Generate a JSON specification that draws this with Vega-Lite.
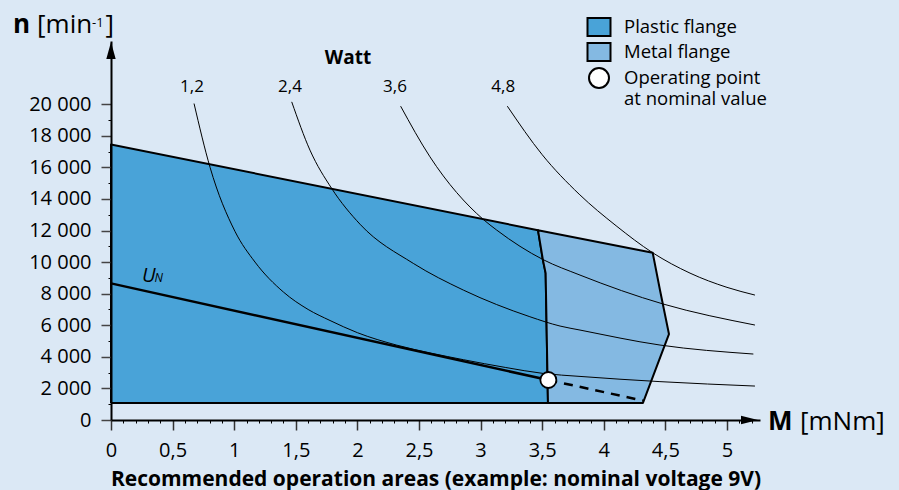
{
  "$schema": "https://vega.github.io/schema/vega-lite/v6.json",
  "width": 649,
  "height": 379,
  "autosize": "none",
  "padding": {"left": 111, "top": 41, "right": 139, "bottom": 70},
  "background": "#dbe8f5",
  "config": {"view": {"stroke": null}, "font": "Open Sans"},
  "datasets": {
    "plastic": [
      {"i": 0, "M": 0, "n": 1080},
      {"i": 1, "M": 0, "n": 17450},
      {"i": 2, "M": 3.466, "n": 12020},
      {"i": 3, "M": 3.506, "n": 10127},
      {"i": 4, "M": 3.528, "n": 9300},
      {"i": 5, "M": 3.547, "n": 1080},
      {"i": 6, "M": 0, "n": 1080}
    ],
    "metal": [
      {"i": 0, "M": 3.547, "n": 1080},
      {"i": 1, "M": 3.528, "n": 9300},
      {"i": 2, "M": 3.506, "n": 10127},
      {"i": 3, "M": 3.466, "n": 12020},
      {"i": 4, "M": 4.397, "n": 10590},
      {"i": 5, "M": 4.456, "n": 8228},
      {"i": 6, "M": 4.529, "n": 5443},
      {"i": 7, "M": 4.318, "n": 1080},
      {"i": 8, "M": 3.547, "n": 1080}
    ],
    "curves": [
      {"P": "1,2", "M": 0.674, "n": 20040},
      {"P": "1,2", "M": 0.804, "n": 16000},
      {"P": "1,2", "M": 1.006, "n": 11950},
      {"P": "1,2", "M": 1.169, "n": 10000},
      {"P": "1,2", "M": 1.4, "n": 8100},
      {"P": "1,2", "M": 1.6, "n": 7000},
      {"P": "1,2", "M": 1.778, "n": 6300},
      {"P": "1,2", "M": 2.0, "n": 5530},
      {"P": "1,2", "M": 2.32, "n": 4740},
      {"P": "1,2", "M": 2.6, "n": 4230},
      {"P": "1,2", "M": 2.86, "n": 3820},
      {"P": "1,2", "M": 3.2, "n": 3330},
      {"P": "1,2", "M": 3.507, "n": 2950},
      {"P": "1,2", "M": 3.807, "n": 2760},
      {"P": "1,2", "M": 4.456, "n": 2430},
      {"P": "1,2", "M": 5.227, "n": 2150},
      {"P": "2,4", "M": 1.467, "n": 20146},
      {"P": "2,4", "M": 1.615, "n": 17090},
      {"P": "2,4", "M": 1.791, "n": 14665},
      {"P": "2,4", "M": 2.021, "n": 12400},
      {"P": "2,4", "M": 2.454, "n": 9916},
      {"P": "2,4", "M": 2.86, "n": 8228},
      {"P": "2,4", "M": 3.4, "n": 6540},
      {"P": "2,4", "M": 3.645, "n": 5949},
      {"P": "2,4", "M": 3.807, "n": 5696},
      {"P": "2,4", "M": 4.456, "n": 4747},
      {"P": "2,4", "M": 5.214, "n": 4177},
      {"P": "3,6", "M": 2.351, "n": 19873},
      {"P": "3,6", "M": 2.589, "n": 16667},
      {"P": "3,6", "M": 3.022, "n": 12700},
      {"P": "3,6", "M": 3.131, "n": 12025},
      {"P": "3,6", "M": 3.509, "n": 10150},
      {"P": "3,6", "M": 3.807, "n": 9177},
      {"P": "3,6", "M": 4.483, "n": 7342},
      {"P": "3,6", "M": 5.227, "n": 6013},
      {"P": "4,8", "M": 3.217, "n": 19873},
      {"P": "4,8", "M": 3.5, "n": 16800},
      {"P": "4,8", "M": 3.8, "n": 14300},
      {"P": "4,8", "M": 4.1, "n": 12300},
      {"P": "4,8", "M": 4.397, "n": 10590},
      {"P": "4,8", "M": 4.7, "n": 9300},
      {"P": "4,8", "M": 5.0, "n": 8400},
      {"P": "4,8", "M": 5.227, "n": 7911}
    ],
    "un": [
      {"M": 0, "n": 8650},
      {"M": 3.55, "n": 2532}
    ],
    "undash": [
      {"M": 3.55, "n": 2532},
      {"M": 4.318, "n": 1230}
    ],
    "op": [
      {"M": 3.55, "n": 2532, "item": "Operating point|at nominal value"}
    ],
    "labels": [
      {"t": "1,2", "M": 0.657, "n": 20770},
      {"t": "2,4", "M": 1.453, "n": 20770},
      {"t": "3,6", "M": 2.305, "n": 20770},
      {"t": "4,8", "M": 3.184, "n": 20770}
    ],
    "watt": [{"t": "Watt", "M": 1.924, "n": 22545}],
    "boldTitles": [
      {"t": "n", "M": -0.795, "n": 24490},
      {"t": "M", "M": 5.333, "n": -633}
    ],
    "regTitles": [
      {"t": "[min", "M": -0.6, "n": 24490},
      {"t": "]", "M": -0.045, "n": 24490},
      {"t": "[mNm]", "M": 5.593, "n": -633}
    ],
    "supTitles": [{"t": "-1", "M": -0.154, "n": 24889}],
    "uLabel": [{"t": "U", "M": 0.252, "n": 8740}],
    "nLabel": [{"t": "N", "M": 0.353, "n": 8740}],
    "arrowY": [{"M": 0, "n": 23400}],
    "arrowX": [{"M": 5.183, "n": 0}]
  },
  "layer": [
    {
      "data": {"name": "plastic"},
      "mark": {"type": "line", "fill": "#49a3d8", "stroke": "black", "strokeWidth": 2, "strokeJoin": "round"},
      "encoding": {
        "x": {
          "field": "M", "type": "quantitative",
          "scale": {"domain": [0, 5.268], "nice": false, "zero": false},
          "axis": {
            "orient": "bottom",
            "values": [0, 0.5, 1, 1.5, 2, 2.5, 3, 3.5, 4, 4.5, 5],
            "format": "~g",
            "labelExpr": "replace(datum.label, '.', ',')",
            "labelFlush": false,
            "tickSize": 10, "tickColor": "#333", "tickWidth": 1.5,
            "domainColor": "black", "domainWidth": 2,
            "labelFontSize": 20, "labelColor": "black", "labelPadding": 10,
            "grid": false, "zindex": 1,
            "title": "Recommended operation areas (example: nominal voltage 9V)",
            "titleFontSize": 21, "titleFontWeight": "bold", "titleColor": "black", "titlePadding": 8
          }
        },
        "y": {
          "field": "n", "type": "quantitative",
          "scale": {"domain": [0, 24000], "nice": false, "zero": false},
          "axis": {
            "orient": "left",
            "values": [0, 2000, 4000, 6000, 8000, 10000, 12000, 14000, 16000, 18000, 20000],
            "labelExpr": "replace(format(datum.value, ','), ',', ' ')",
            "labelFlush": false,
            "tickSize": 10, "tickColor": "#444", "tickWidth": 1.5,
            "domainColor": "black", "domainWidth": 2,
            "labelFontSize": 20, "labelColor": "black", "labelPadding": 10,
            "grid": false, "zindex": 1, "title": null
          }
        },
        "order": {"field": "i", "type": "quantitative"}
      }
    },
    {
      "data": {"name": "metal"},
      "mark": {"type": "line", "fill": "#84b9e2", "stroke": "black", "strokeWidth": 2, "strokeJoin": "round"},
      "encoding": {
        "x": {"field": "M", "type": "quantitative", "scale": {"domain": [0, 5.268], "nice": false, "zero": false}, "axis": null},
        "y": {"field": "n", "type": "quantitative", "scale": {"domain": [0, 24000], "nice": false, "zero": false}, "axis": null},
        "order": {"field": "i", "type": "quantitative"}
      }
    },
    {
      "data": {"name": "curves"},
      "mark": {"type": "line", "stroke": "black", "strokeWidth": 1, "interpolate": "monotone"},
      "encoding": {
        "x": {
          "field": "M", "type": "quantitative",
          "scale": {"domain": [0, 5.268], "nice": false, "zero": false},
          "axis": {
            "orient": "bottom",
            "values": [0.1, 0.2, 0.3, 0.4, 0.6, 0.7, 0.8, 0.9, 1.1, 1.2, 1.3, 1.4, 1.6, 1.7, 1.8, 1.9, 2.1, 2.2, 2.3, 2.4, 2.6, 2.7, 2.8, 2.9, 3.1, 3.2, 3.3, 3.4, 3.6, 3.7, 3.8, 3.9, 4.1, 4.2, 4.3, 4.4, 4.6, 4.7, 4.8, 4.9, 5.1, 5.2],
            "tickSize": 3, "tickColor": "black", "tickWidth": 1,
            "labels": false, "domain": false, "grid": false, "title": null
          }
        },
        "y": {
          "field": "n", "type": "quantitative",
          "scale": {"domain": [0, 24000], "nice": false, "zero": false},
          "axis": {
            "orient": "left",
            "values": [1000, 3000, 5000, 7000, 9000, 11000, 13000, 15000, 17000, 19000],
            "tickSize": 3, "tickColor": "black", "tickWidth": 1,
            "labels": false, "domain": false, "grid": false, "title": null
          }
        },
        "detail": {"field": "P", "type": "nominal"}
      }
    },
    {
      "data": {"name": "un"},
      "mark": {"type": "line", "stroke": "black", "strokeWidth": 2.5},
      "encoding": {
        "x": {"field": "M", "type": "quantitative", "scale": {"domain": [0, 5.268], "nice": false, "zero": false}, "axis": null},
        "y": {"field": "n", "type": "quantitative", "scale": {"domain": [0, 24000], "nice": false, "zero": false}, "axis": null}
      }
    },
    {
      "data": {"name": "undash"},
      "mark": {"type": "line", "stroke": "black", "strokeWidth": 2.5, "strokeDash": [9, 7]},
      "encoding": {
        "x": {"field": "M", "type": "quantitative", "scale": {"domain": [0, 5.268], "nice": false, "zero": false}, "axis": null},
        "y": {"field": "n", "type": "quantitative", "scale": {"domain": [0, 24000], "nice": false, "zero": false}, "axis": null}
      }
    },
    {
      "data": {"name": "op"},
      "mark": {"type": "point", "filled": true, "size": 256, "stroke": "black", "strokeWidth": 1.8, "opacity": 1},
      "encoding": {
        "x": {"field": "M", "type": "quantitative", "scale": {"domain": [0, 5.268], "nice": false, "zero": false}, "axis": null},
        "y": {"field": "n", "type": "quantitative", "scale": {"domain": [0, 24000], "nice": false, "zero": false}, "axis": null},
        "fill": {
          "field": "item", "type": "nominal",
          "scale": {
            "domain": ["Plastic flange", "Metal flange", "Operating point|at nominal value"],
            "range": ["#49a3d8", "#84b9e2", "white"]
          },
          "legend": {
            "title": null,
            "orient": "none",
            "legendX": 477,
            "legendY": -25,
            "padding": 0,
            "symbolSize": 400,
            "symbolStrokeColor": "black",
            "symbolStrokeWidth": 2,
            "symbolOpacity": 1,
            "labelFontSize": 18.5,
            "labelColor": "black",
            "labelFont": "Open Sans",
            "labelOffset": 14,
            "labelLimit": 300,
            "rowPadding": -1,
            "labelExpr": "split(datum.label, '|')"
          }
        },
        "shape": {
          "field": "item", "type": "nominal",
          "scale": {
            "domain": ["Plastic flange", "Metal flange", "Operating point|at nominal value"],
            "range": ["M-1.15,-0.9H1.15V0.9H-1.15Z", "M-1.15,-0.9H1.15V0.9H-1.15Z", "circle"]
          }
        }
      }
    },
    {
      "data": {"name": "labels"},
      "mark": {"type": "text", "fontSize": 17, "align": "center", "baseline": "alphabetic", "color": "black"},
      "encoding": {
        "x": {"field": "M", "type": "quantitative", "scale": {"domain": [0, 5.268], "nice": false, "zero": false}, "axis": null},
        "y": {"field": "n", "type": "quantitative", "scale": {"domain": [0, 24000], "nice": false, "zero": false}, "axis": null},
        "text": {"field": "t"}
      }
    },
    {
      "data": {"name": "watt"},
      "mark": {"type": "text", "fontSize": 19, "fontWeight": "bold", "align": "center", "baseline": "alphabetic", "color": "black"},
      "encoding": {
        "x": {"field": "M", "type": "quantitative", "scale": {"domain": [0, 5.268], "nice": false, "zero": false}, "axis": null},
        "y": {"field": "n", "type": "quantitative", "scale": {"domain": [0, 24000], "nice": false, "zero": false}, "axis": null},
        "text": {"field": "t"}
      }
    },
    {
      "data": {"name": "boldTitles"},
      "mark": {"type": "text", "fontSize": 26, "fontWeight": "bold", "align": "left", "baseline": "alphabetic", "color": "black"},
      "encoding": {
        "x": {"field": "M", "type": "quantitative", "scale": {"domain": [0, 5.268], "nice": false, "zero": false}, "axis": null},
        "y": {"field": "n", "type": "quantitative", "scale": {"domain": [0, 24000], "nice": false, "zero": false}, "axis": null},
        "text": {"field": "t"}
      }
    },
    {
      "data": {"name": "regTitles"},
      "mark": {"type": "text", "fontSize": 26, "align": "left", "baseline": "alphabetic", "color": "black"},
      "encoding": {
        "x": {"field": "M", "type": "quantitative", "scale": {"domain": [0, 5.268], "nice": false, "zero": false}, "axis": null},
        "y": {"field": "n", "type": "quantitative", "scale": {"domain": [0, 24000], "nice": false, "zero": false}, "axis": null},
        "text": {"field": "t"}
      }
    },
    {
      "data": {"name": "supTitles"},
      "mark": {"type": "text", "fontSize": 13, "align": "left", "baseline": "alphabetic", "color": "black"},
      "encoding": {
        "x": {"field": "M", "type": "quantitative", "scale": {"domain": [0, 5.268], "nice": false, "zero": false}, "axis": null},
        "y": {"field": "n", "type": "quantitative", "scale": {"domain": [0, 24000], "nice": false, "zero": false}, "axis": null},
        "text": {"field": "t"}
      }
    },
    {
      "data": {"name": "uLabel"},
      "mark": {"type": "text", "fontSize": 20, "fontStyle": "italic", "align": "left", "baseline": "alphabetic", "color": "black"},
      "encoding": {
        "x": {"field": "M", "type": "quantitative", "scale": {"domain": [0, 5.268], "nice": false, "zero": false}, "axis": null},
        "y": {"field": "n", "type": "quantitative", "scale": {"domain": [0, 24000], "nice": false, "zero": false}, "axis": null},
        "text": {"field": "t"}
      }
    },
    {
      "data": {"name": "nLabel"},
      "mark": {"type": "text", "fontSize": 12, "fontStyle": "italic", "align": "left", "baseline": "alphabetic", "color": "black"},
      "encoding": {
        "x": {"field": "M", "type": "quantitative", "scale": {"domain": [0, 5.268], "nice": false, "zero": false}, "axis": null},
        "y": {"field": "n", "type": "quantitative", "scale": {"domain": [0, 24000], "nice": false, "zero": false}, "axis": null},
        "text": {"field": "t"}
      }
    },
    {
      "data": {"name": "arrowY"},
      "mark": {"type": "point", "shape": "M0,-1L0.55,1L-0.55,1Z", "size": 289, "filled": true, "color": "black", "opacity": 1},
      "encoding": {
        "x": {"field": "M", "type": "quantitative", "scale": {"domain": [0, 5.268], "nice": false, "zero": false}, "axis": null},
        "y": {"field": "n", "type": "quantitative", "scale": {"domain": [0, 24000], "nice": false, "zero": false}, "axis": null}
      }
    },
    {
      "data": {"name": "arrowX"},
      "mark": {"type": "point", "shape": "M1,0L-1,-0.5L-1,0.5Z", "size": 289, "filled": true, "color": "black", "opacity": 1},
      "encoding": {
        "x": {"field": "M", "type": "quantitative", "scale": {"domain": [0, 5.268], "nice": false, "zero": false}, "axis": null},
        "y": {"field": "n", "type": "quantitative", "scale": {"domain": [0, 24000], "nice": false, "zero": false}, "axis": null}
      }
    }
  ],
  "resolve": {"axis": {"x": "independent", "y": "independent"}}
}
